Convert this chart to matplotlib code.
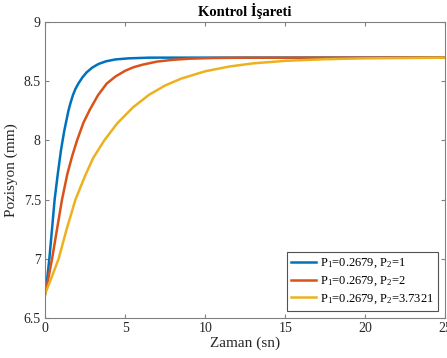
import matplotlib
matplotlib.use("Agg")
import matplotlib.pyplot as plt

plt.rcParams['font.family'] = ['Liberation Serif', 'DejaVu Serif']
plt.rcParams['mathtext.fontset'] = 'custom'
plt.rcParams['mathtext.rm'] = 'Liberation Serif'
plt.rcParams['mathtext.default'] = 'regular'

# values
t_blue = [0, 0.15, 0.27, 0.45, 0.6, 0.8, 1.0, 1.2, 1.46, 1.6, 1.75, 1.9, 2.08, 2.35, 2.6, 2.95,
          3.33, 3.8, 4.4, 5.2, 6.5, 25]
y_blue = [6.70, 6.85, 7.0, 7.27, 7.5, 7.72, 7.92, 8.08, 8.25, 8.32, 8.385, 8.435, 8.48, 8.535, 8.575, 8.615,
          8.645, 8.668, 8.684, 8.693, 8.699, 8.70]

t_red = [0, 0.2, 0.44, 0.75, 1.06, 1.4, 1.7, 2.0, 2.4, 2.8, 3.3, 3.85, 4.4, 5.0, 5.5, 6.1,
         7.0, 8.0, 9.0, 10.5, 12, 25]
y_red = [6.70, 6.83, 7.0, 7.25, 7.5, 7.72, 7.87, 8.0, 8.15, 8.26, 8.38, 8.48, 8.54, 8.588, 8.617, 8.64,
         8.666, 8.681, 8.69, 8.696, 8.698, 8.70]

t_yel = [0, 0.4, 0.85, 1.35, 1.9, 2.5, 3.0, 3.7, 4.5, 5.5, 6.5, 7.5, 8.5, 10, 11.5, 13,
         15, 17.5, 20, 25]
y_yel = [6.70, 6.84, 7.0, 7.25, 7.5, 7.7, 7.85, 8.0, 8.143, 8.28, 8.386, 8.464, 8.522, 8.584, 8.624, 8.651,
         8.672, 8.686, 8.693, 8.699]

labels = ['P$_1$=0.2679, P$_2$=1', 'P$_1$=0.2679, P$_2$=2', 'P$_1$=0.2679, P$_2$=3.7321']
colors = ['#0072BD', '#D95319', '#EDB120']

fig = plt.figure(figsize=(4.47, 3.58), dpi=100)
ax = fig.add_axes([0.1007, 0.1117, 0.8959, 0.8268])

for t, y, lab, c in zip([t_blue, t_red, t_yel], [y_blue, y_red, y_yel], labels, colors):
    ax.plot(t, y, color=c, lw=1.8, label=lab, solid_joinstyle='round')

ax.set_xlim(0, 25)
ax.set_ylim(6.5, 9)
ax.set_xticks([0, 5, 10, 15, 20, 25])
ax.set_yticks([6.5, 7, 7.5, 8, 8.5, 9])
ax.set_yticklabels(['6.5', '7', '7.5', '8', '8.5', '9'])
ax.tick_params(direction='in', top=True, right=True, length=3, width=0.8,
               color='#808080', labelsize=10, labelcolor='#262626', pad=3)
for s in ax.spines.values():
    s.set_color('#808080')
    s.set_linewidth(0.8)

ax.set_xlabel('Zaman (sn)', fontsize=11, color='#262626', labelpad=1)
ax.set_ylabel('Pozisyon (mm)', fontsize=11, color='#262626', labelpad=4)
ax.set_title('Kontrol İşareti', fontsize=10.5, fontweight='bold', pad=4)

leg = ax.legend(loc='lower right', fontsize=9, frameon=True, fancybox=False,
                edgecolor='#262626', handlelength=2.0, borderaxespad=0.6,
                labelspacing=0.35, handletextpad=0.3, borderpad=0.35)
leg.get_frame().set_linewidth(0.8)

fig.savefig('out.png', dpi=100)
